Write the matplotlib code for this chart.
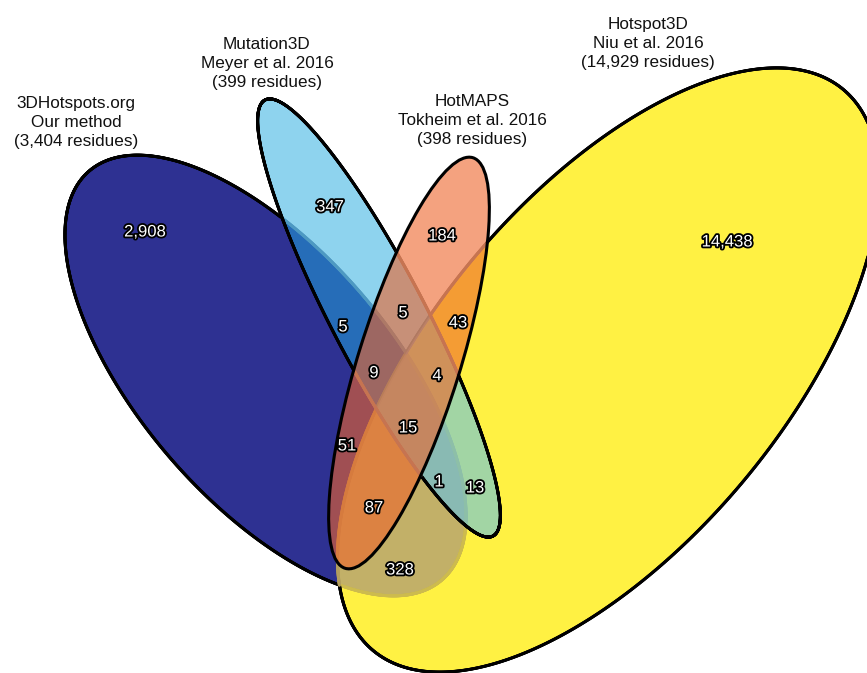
import numpy as np
import matplotlib.pyplot as plt
import matplotlib.patheffects as pe
from matplotlib.patches import Ellipse
from matplotlib.collections import LineCollection

plt.rcParams['font.family'] = ['Liberation Sans', 'DejaVu Sans']

# sets: H = 3DHotspots.org, M = Mutation3D, T = HotMAPS, N = Hotspot3D
set_keys = ['H', 'M', 'T', 'N']
set_names = ['3DHotspots.org', 'Mutation3D', 'HotMAPS', 'Hotspot3D']
set_refs = ['Our method', 'Meyer et al. 2016', 'Tokheim et al. 2016', 'Niu et al. 2016']
set_sizes = [3404, 399, 398, 14929]

# residues in each region of the diagram
region_sets = ['H', 'M', 'T', 'N', 'HM', 'MT', 'TN', 'HMT', 'MTN',
               'HT', 'HMTN', 'HMN', 'MN', 'HTN', 'HN']
region_counts = [2908, 347, 184, 14438, 5, 5, 43, 9, 4,
                 51, 15, 1, 13, 87, 328]

# ellipse geometry (pixels): centre x, centre y, semi-major, semi-minor, angle
shapes = {
    'H': (265.5, 375.5, 270, 126, 49.2),
    'M': (379.0, 318.0, 246, 47, 62.4),
    'T': (409.0, 363.0, 215, 51, 107.3),
    'N': (608.2, 370.0, 366, 175, 130.0),
}
title_pos = {'H': (76, 122.7), 'M': (267, 63.3), 'T': (472, 120.7), 'N': (648, 43.3)}
count_pos = {
    'H': (145, 232), 'M': (330, 207), 'T': (442, 236), 'N': (727, 242),
    'HM': (343, 327), 'MT': (403, 313), 'TN': (458, 323), 'HMT': (374, 373),
    'MTN': (437, 376), 'HT': (347, 446), 'HMTN': (408, 428), 'HMN': (439, 482),
    'MN': (475, 488), 'HTN': (374, 508), 'HN': (400, 570),
}

navy = '#2E3192'
yellow = '#FFF143'
olive = '#C2B068'
light_blue = (31/255, 169/255, 223/255, 0.5)
salmon = (238/255, 100/255, 42/255, 0.6)


def ellipse(key, **kw):
    cx, cy, a, b, ang = shapes[key]
    return Ellipse((cx, cy), 2*a, 2*b, angle=ang, **kw)


def inside(key, x, y):
    cx, cy, a, b, ang = shapes[key]
    t = np.deg2rad(ang)
    dx, dy = x - cx, y - cy
    u = dx*np.cos(t) + dy*np.sin(t)
    v = -dx*np.sin(t) + dy*np.cos(t)
    return (u/a)**2 + (v/b)**2 < 1


def outline_segments(key, n=2000):
    cx, cy, a, b, ang = shapes[key]
    t = np.deg2rad(ang)
    th = np.linspace(0, 2*np.pi, n)
    x = cx + a*np.cos(th)*np.cos(t) - b*np.sin(th)*np.sin(t)
    y = cy + a*np.cos(th)*np.sin(t) + b*np.sin(th)*np.cos(t)
    pts = np.column_stack([x, y])
    segs = np.stack([pts[:-1], pts[1:]], axis=1)
    return segs, (x[:-1] + x[1:])/2, (y[:-1] + y[1:])/2


fig = plt.figure(figsize=(8.67, 6.73), dpi=100)
ax = fig.add_axes([0, 0, 1, 1])
ax.set_xlim(0, 867)
ax.set_ylim(673, 0)
ax.axis('off')

lw = 2.2

# big sets as opaque fills, their overlap in olive
ax.add_patch(ellipse('N', facecolor=yellow, edgecolor='none', zorder=1))
ax.add_patch(ellipse('H', facecolor=navy, edgecolor='none', zorder=2))
overlap = ellipse('N', facecolor=olive, edgecolor='none', zorder=3)
ax.add_patch(overlap)
overlap.set_clip_path(ellipse('H', transform=ax.transData))

# outlines of the big sets: black outside, faint where they cross other sets
segs, mx, my = outline_segments('H')
cols = np.where(inside('N', mx, my), '#CDBB4E',
                np.where(inside('M', mx, my) | inside('T', mx, my), '#7F8AA6', 'black'))
ax.add_collection(LineCollection(segs, colors=cols, linewidths=lw, zorder=4,
                                 capstyle='round'))
segs, mx, my = outline_segments('N')
cols = np.where(inside('H', mx, my), '#B39E5E',
                np.where(inside('M', mx, my) | inside('T', mx, my), '#8C8C8C', 'black'))
ax.add_collection(LineCollection(segs, colors=cols, linewidths=lw, zorder=4,
                                 capstyle='round'))

# Mutation3D: translucent, slightly paler where it sits on Hotspot3D
ax.add_patch(ellipse('M', facecolor=light_blue, edgecolor='none', zorder=5))
pale = ellipse('M', facecolor=(1, 1, 1, 0.18), edgecolor='none', zorder=5.1)
ax.add_patch(pale)
pale.set_clip_path(ellipse('N', transform=ax.transData))
segs, mx, my = outline_segments('M')
cols = np.where(inside('T', mx, my), '#8C8C8C', 'black')
ax.add_collection(LineCollection(segs, colors=cols, linewidths=lw, zorder=5.2,
                                 capstyle='round'))

# HotMAPS on top
ax.add_patch(ellipse('T', facecolor=salmon, edgecolor='black', linewidth=lw, zorder=6))

outline_fx = [pe.withStroke(linewidth=2.6, foreground='black')]
for key, n in zip(region_sets, region_counts):
    x, y = count_pos[key]
    ax.text(x, y, f'{n:,}', ha='center', va='center', fontsize=12,
            color='white', path_effects=outline_fx, zorder=10)

for key, name, ref, size in zip(set_keys, set_names, set_refs, set_sizes):
    x, y = title_pos[key]
    ax.text(x, y, f'{name}\n{ref}\n({size:,} residues)', ha='center', va='center',
            fontsize=12.3, color='#111111', linespacing=1.32, zorder=10)

fig.savefig('out.png', dpi=100)
